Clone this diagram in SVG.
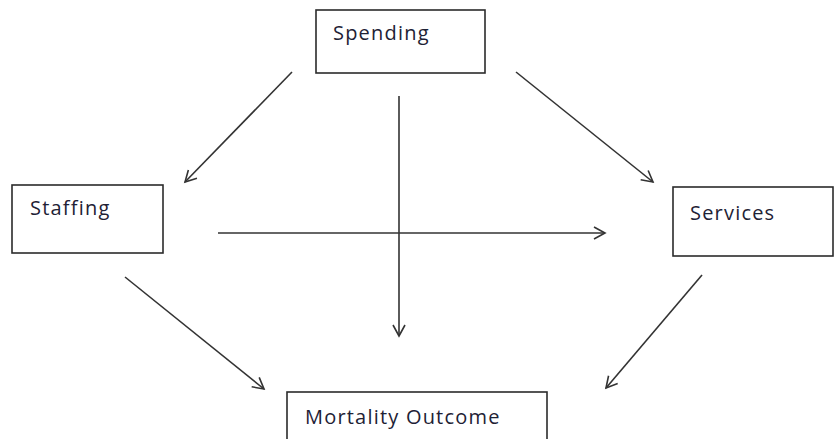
<svg xmlns="http://www.w3.org/2000/svg" width="835" height="439" viewBox="0 0 835 439">
  <style>
    .box { fill: #ffffff; stroke: #2b2b2b; stroke-width: 1.6; }
    .label { font-family: "Open Sans", "Liberation Sans", sans-serif; font-size: 20px; letter-spacing: 1.2px; fill: #1e2235; }
    .edge { fill: none; stroke: #333333; stroke-width: 1.6; marker-end: url(#head); }
  </style>
  <defs>
    <marker id="head" markerUnits="userSpaceOnUse" markerWidth="16" markerHeight="16" refX="13" refY="8" orient="auto">
      <path d="M2,2 L13,8 L2,14" fill="none" stroke="#333333" stroke-width="1.6"/>
    </marker>
  </defs>
  <rect width="835" height="439" fill="#ffffff"/>

  <!-- arrows between the boxes -->
  <g id="connectors">
    <line class="edge" x1="292" y1="72" x2="185" y2="182"/>
    <line class="edge" x1="516" y1="72" x2="653" y2="182"/>
    <line class="edge" x1="399" y1="96" x2="399" y2="336"/>
    <line class="edge" x1="218" y1="233" x2="605" y2="233"/>
    <line class="edge" x1="125" y1="277" x2="264" y2="389"/>
    <line class="edge" x1="702" y1="275" x2="606" y2="388"/>
  </g>

  <g id="spending">
    <rect class="box" x="316" y="10" width="169" height="63"/>
    <text class="label" x="333" y="40">Spending</text>
  </g>

  <g id="staffing">
    <rect class="box" x="12" y="185" width="151" height="68"/>
    <text class="label" x="30" y="215">Staffing</text>
  </g>

  <g id="services">
    <rect class="box" x="673" y="187" width="160" height="69"/>
    <text class="label" x="690" y="220">Services</text>
  </g>

  <g id="mortality-outcome">
    <rect class="box" x="287" y="392" width="260" height="60"/>
    <text class="label" x="305" y="424">Mortality Outcome</text>
  </g>
</svg>
